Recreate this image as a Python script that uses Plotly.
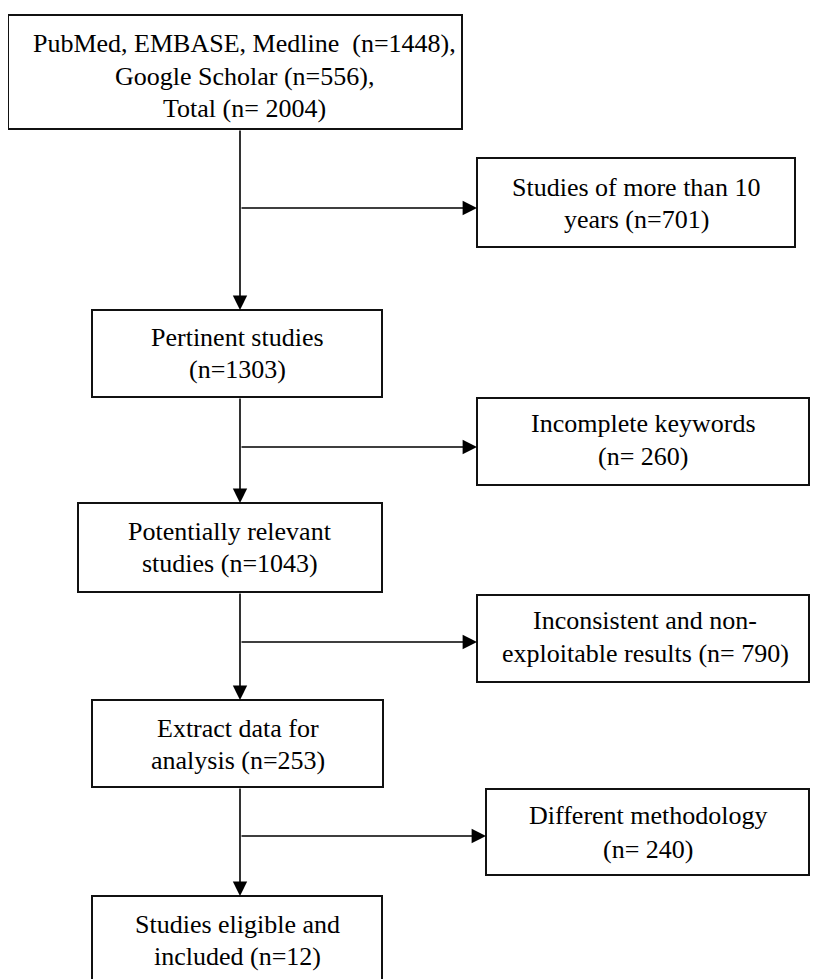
import plotly.graph_objects as go

# ---- data ----
main_labels = [
    ["PubMed, EMBASE, Medline  (n=1448),", "Google Scholar (n=556),", "Total (n= 2004)"],
    ["Pertinent studies", "(n=1303)"],
    ["Potentially relevant", "studies (n=1043)"],
    ["Extract data for", "analysis (n=253)"],
    ["Studies eligible and", "included (n=12)"],
]
side_labels = [
    ["Studies of more than 10", "years (n=701)"],
    ["Incomplete keywords", "(n= 260)"],
    ["Inconsistent and non-", "exploitable results (n= 790)"],
    ["Different methodology", "(n= 240)"],
]

# ---- layout geometry (page pixels, y downward) ----
W, H = 818, 979
PAD = 8  # default page body margin
main_boxes = [(8, 462, 15, 129), (92, 382, 310, 397), (78, 382, 503, 592),
              (92, 383, 700, 787), (92, 382, 896, 990)]
main_text_x = [244, None, None, None, None]
main_text_y = [[43, 76, 108], [337, 369], [531, 563], [728, 760], [924, 956]]
side_boxes = [(477, 795, 158, 247), (477, 809, 398, 485), (477, 809, 595, 682),
              (486, 809, 789, 875)]
side_text_x = [None, None, 645, 648]
side_text_y = [[187, 219], [423, 456], [620, 653], [815, 849]]
spine_x = 240
branch_y = [208, 447, 642, 836]

FONT = dict(family="Liberation Serif, Times New Roman, serif", size=26, color="#000000")

fig = go.Figure()
shapes = []
annotations = []

def add_box(b, lines, ys, cx=None):
    x0, x1, y0, y1 = b
    shapes.append(dict(type="rect", xref="x", yref="y", x0=x0, x1=x1, y0=y0, y1=y1,
                       line=dict(color="#111111", width=2), fillcolor="rgba(0,0,0,0)"))
    if cx is None:
        cx = (x0 + x1) / 2
    for t, y in zip(lines, ys):
        annotations.append(dict(x=cx, y=y, xref="x", yref="y", text=t, showarrow=False,
                                font=FONT, xanchor="center", yanchor="middle"))

for b, lab, ys, cx in zip(main_boxes, main_labels, main_text_y, main_text_x):
    add_box(b, lab, ys, cx)
for b, lab, ys, cx in zip(side_boxes, side_labels, side_text_y, side_text_x):
    add_box(b, lab, ys, cx)

def arrow(x0, y0, x1, y1):
    annotations.append(dict(x=x1, y=y1, ax=x0, ay=y0, xref="x", yref="y", axref="x", ayref="y",
                            text="", showarrow=True, arrowhead=2, arrowsize=1.8,
                            arrowwidth=1.6, arrowcolor="#000000", standoff=0, startstandoff=0))

for i in range(len(main_boxes) - 1):
    arrow(spine_x, main_boxes[i][3], spine_x, main_boxes[i + 1][2])
for by, sb in zip(branch_y, side_boxes):
    arrow(spine_x, by, sb[0], by)

fig.update_layout(
    width=W - PAD, height=H - PAD, margin=dict(l=0, r=0, t=0, b=0),
    paper_bgcolor="white", plot_bgcolor="white",
    xaxis=dict(range=[PAD, W], visible=False, fixedrange=True),
    yaxis=dict(range=[H, PAD], visible=False, fixedrange=True),
    shapes=shapes, annotations=annotations, showlegend=False,
)
fig.write_html("out.html")
